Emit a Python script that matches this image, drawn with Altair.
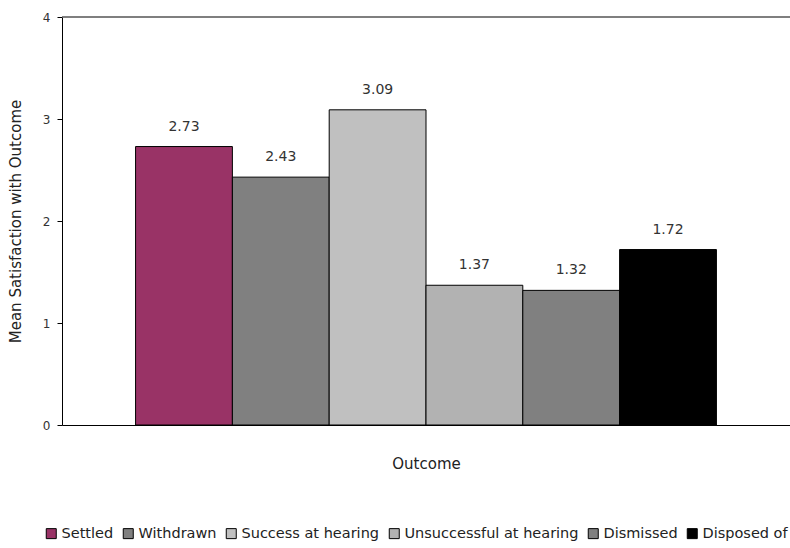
import altair as alt
import pandas as pd

outcomes = ["Settled", "Withdrawn", "Success at hearing",
            "Unsuccessful at hearing", "Dismissed", "Disposed of"]
satisfaction = [2.73, 2.43, 3.09, 1.37, 1.32, 1.72]
fills = ["#993366", "#808080", "#C0C0C0", "#B2B2B2", "#808080", "#000000"]
y_ticks = [0, 1, 2, 3, 4]

df = pd.DataFrame({"Outcome": outcomes, "Mean": satisfaction,
                   "Label": [f"{v:.2f}" for v in satisfaction]})

FONT = "DejaVu Sans"

x_enc = alt.X(
    "Outcome:N",
    sort=outcomes,
    scale=alt.Scale(paddingInner=0, paddingOuter=0.76),
    axis=alt.Axis(labels=False, ticks=False, domainColor="#000000",
                  title="Outcome", titleFont=FONT, titleFontSize=15,
                  titleFontWeight="normal", titleColor="#222222",
                  titlePadding=31),
)
y_enc = alt.Y(
    "Mean:Q",
    scale=alt.Scale(domain=[0, 4]),
    axis=alt.Axis(values=y_ticks, format="d", grid=False, tickSize=5,
                  tickColor="#000000", domainColor="#000000",
                  labelFont=FONT, labelFontSize=12, labelColor="#333333",
                  labelPadding=7,
                  title="Mean Satisfaction with Outcome", titleFont=FONT,
                  titleFontSize=15, titleFontWeight="normal",
                  titleColor="#222222", titlePadding=19),
)

bars = alt.Chart(df).mark_bar(stroke="#000000", strokeWidth=1).encode(
    x=x_enc,
    y=y_enc,
    color=alt.Color(
        "Outcome:N",
        sort=outcomes,
        scale=alt.Scale(domain=outcomes, range=fills),
        legend=alt.Legend(
            title=None, orient="none", direction="horizontal",
            legendX=-18, legendY=509, columns=6,
            symbolType="square", symbolSize=100, symbolStrokeColor="#000000",
            symbolStrokeWidth=1, symbolOpacity=1,
            labelFont=FONT, labelFontSize=14.5, labelColor="#222222",
            labelOffset=3, columnPadding=7, labelLimit=300,
        ),
    ),
)

labels = alt.Chart(df).mark_text(
    font=FONT, fontSize=14, color="#333333", baseline="middle", dy=-20
).encode(x=alt.X("Outcome:N", sort=outcomes), y="Mean:Q", text="Label:N")

top_line = alt.Chart(pd.DataFrame({"y": [4]})).mark_rule(
    color="#555555", strokeWidth=1.5
).encode(y="y:Q")

chart = (
    alt.layer(bars, labels, top_line)
    .properties(
        width=728, height=408,
        autosize=alt.AutoSizeParams(type="none"),
        padding={"left": 62, "top": 17, "right": 0, "bottom": 123},
        background="#ffffff",
    )
    .configure_view(stroke=None)
)

chart.save("out.html", embed_options={"renderer": "svg", "actions": False})
